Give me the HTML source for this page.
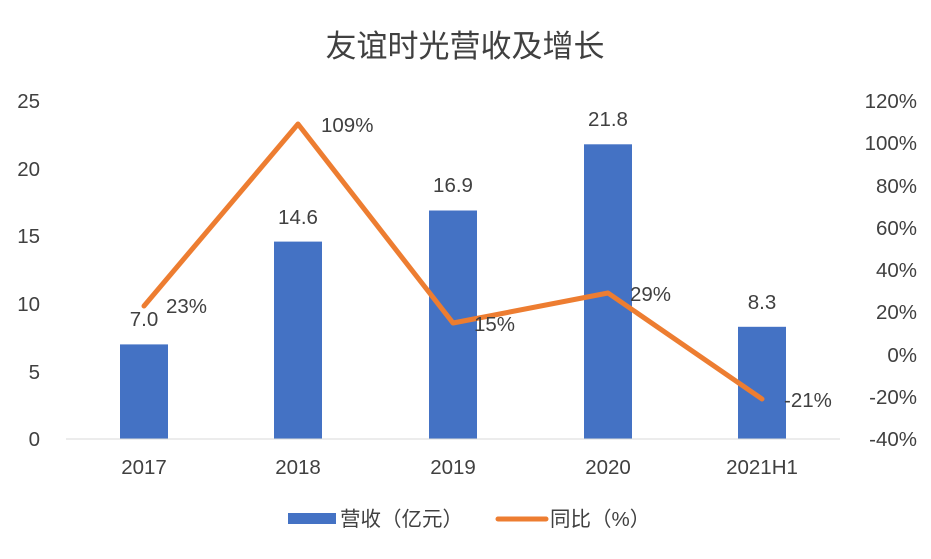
<!DOCTYPE html>
<html><head><meta charset="utf-8"><style>
body{margin:0;background:#fff;}
svg text{font-family:"Liberation Sans","Noto Sans CJK SC",sans-serif;fill:#404040;}
</style></head><body>
<svg width="931" height="554" viewBox="0 0 931 554" xmlns="http://www.w3.org/2000/svg">
<rect width="931" height="554" fill="#fff"/>
<text x="465" y="57" font-size="31" text-anchor="middle" fill="#404040">友谊时光营收及增长</text>
<g font-size="20.5" text-anchor="end">
<text x="40" y="446">0</text>
<text x="40" y="379">5</text>
<text x="40" y="311">10</text>
<text x="40" y="243">15</text>
<text x="40" y="176">20</text>
<text x="40" y="108">25</text>
</g>
<g font-size="20.5" text-anchor="end">
<text x="917" y="446">-40%</text>
<text x="917" y="404">-20%</text>
<text x="917" y="362">0%</text>
<text x="917" y="319">20%</text>
<text x="917" y="277">40%</text>
<text x="917" y="235">60%</text>
<text x="917" y="193">80%</text>
<text x="917" y="150">100%</text>
<text x="917" y="108">120%</text>
</g>
<g fill="#4472C4">
<rect x="120" y="344.4" width="48" height="94.6"/>
<rect x="274" y="241.6" width="48" height="197.4"/>
<rect x="429" y="210.5" width="48" height="228.5"/>
<rect x="584" y="144.3" width="48" height="294.7"/>
<rect x="738" y="326.8" width="48" height="112.2"/>
</g>
<line x1="66" y1="439" x2="840" y2="439" stroke="#d9d9d9" stroke-width="1"/>
<g font-size="20.5" text-anchor="middle">
<text x="144" y="474">2017</text>
<text x="298" y="474">2018</text>
<text x="453" y="474">2019</text>
<text x="608" y="474">2020</text>
<text x="762" y="474">2021H1</text>
</g>
<polyline points="144,306 298,124 453,323 608,293 762,399" fill="none" stroke="#ED7D31" stroke-width="5" stroke-linejoin="round" stroke-linecap="round"/>
<g font-size="20.5" text-anchor="middle">
<text x="144" y="326">7.0</text>
<text x="298" y="224">14.6</text>
<text x="453" y="192">16.9</text>
<text x="608" y="126">21.8</text>
<text x="762" y="309">8.3</text>
</g>
<g font-size="20.5">
<text x="166" y="313">23%</text>
<text x="321" y="132">109%</text>
<text x="474" y="331">15%</text>
<text x="630" y="301">29%</text>
<text x="784" y="407">-21%</text>
</g>
<rect x="288" y="513" width="48" height="11" fill="#4472C4"/>
<text x="340" y="526" font-size="20.5">营收（亿元）</text>
<line x1="498" y1="519" x2="546" y2="519" stroke="#ED7D31" stroke-width="5" stroke-linecap="round"/>
<text x="550" y="526" font-size="20.5">同比（%）</text>
</svg>
</body></html>
